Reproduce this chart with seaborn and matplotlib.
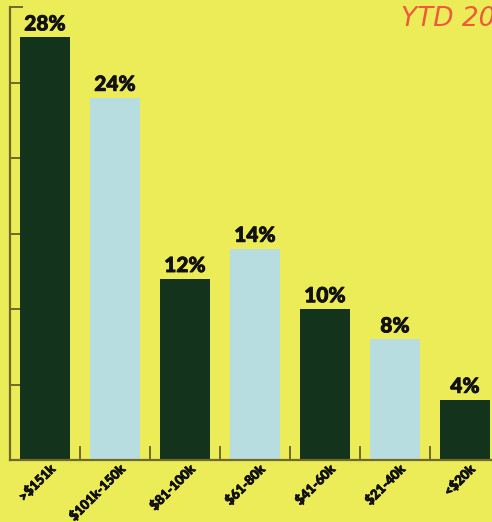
import matplotlib
matplotlib.use("Agg")
import matplotlib.pyplot as plt
import matplotlib.patheffects as pe
import seaborn as sns
import pandas as pd
import numpy as np

categories = [">$151k", "$101k-150k", "$81-100k", "$61-80k", "$41-60k", "$21-40k", "<$20k"]
values = [28, 24, 12, 14, 10, 8, 4]
value_labels = ["28%", "24%", "12%", "14%", "10%", "8%", "4%"]
title_text = "YTD 20"

BG = "#ecec58"
DARK = "#14331c"
LIGHT = "#b8dde0"
AX = "#6f6a2c"

sns.set_theme(style="white")
plt.rcParams['font.family'] = ['Lato', 'DejaVu Sans']

df = pd.DataFrame({"cat": categories, "val": values})
palette = [DARK if i % 2 == 0 else LIGHT for i in range(len(categories))]

W, H = 492, 522
fig = plt.figure(figsize=(W / 100, H / 100), dpi=100, facecolor=BG)
ax = fig.add_axes([10 / W, (H - 460) / H, 490 / W, 453 / H])
ax.set_facecolor(BG)

sns.barplot(data=df, x="cat", y="val", hue="cat", palette=palette, legend=False,
            width=50 / 70, ax=ax, saturation=1, edgecolor="none")

ax.set_xlim(-0.5, 6.5)
ax.set_ylim(0, 30)

thick = [pe.withStroke(linewidth=0.6, foreground="#111111")]
for i, (v, lab) in enumerate(zip(values, value_labels)):
    ax.text(i, v + 0.25, lab, ha="center", va="bottom", fontsize=15,
            fontweight="black", color="#111111", path_effects=thick)

for s in ["top", "right"]:
    ax.spines[s].set_visible(False)
for s in ["left", "bottom"]:
    ax.spines[s].set_color(AX)
    ax.spines[s].set_linewidth(1.6)

ax.set_yticks(np.arange(0, 31, 5))
ax.set_yticklabels([])
ax.tick_params(axis="y", direction="in", length=9, width=1.4, color=AX, left=True)

ax.set_xticks(np.arange(0.5, 6, 1))
ax.set_xticklabels([])
ax.tick_params(axis="x", which="major", direction="in", length=10, width=1.4, color=AX, bottom=True)
ax.set_xticks(np.arange(len(categories)), minor=True)
ax.set_xticklabels(categories, minor=True, rotation=45, ha="right",
                   rotation_mode="anchor", fontsize=9.5, fontweight="black", color="#111111")
ax.tick_params(axis="x", which="minor", length=0, pad=2)
thin = [pe.withStroke(linewidth=0.6, foreground="#111111")]
for t in ax.get_xticklabels(minor=True):
    t.set_transform(t.get_transform() + matplotlib.transforms.ScaledTranslation(4 / 100, 0, fig.dpi_scale_trans))
    t.set_path_effects(thin)

ax.set_xlabel("")
ax.set_ylabel("")

fig.text(401 / W, 1 - 19 / H, title_text, color="#ef5a3a", fontsize=19,
         fontstyle="italic", ha="left", va="center", family=["DejaVu Sans"])

fig.savefig("out.png", dpi=100, facecolor=BG)
